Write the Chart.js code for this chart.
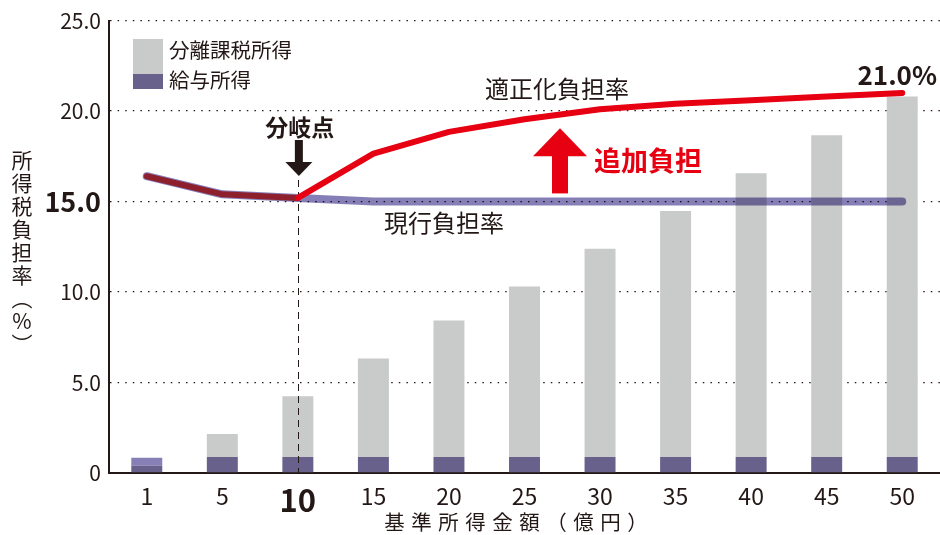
<!DOCTYPE html>
<html lang="ja">
<head>
<meta charset="UTF-8">
<title>所得税負担率</title>
<script src="https://cdn.jsdelivr.net/npm/chart.js@4.4.1/dist/chart.umd.min.js"></script>
<style>
    html, body { margin: 0; padding: 0; background: #ffffff; }
    #wrap { width: 940px; height: 535px; }
</style>
</head>
<body>
<div id="wrap"><canvas id="myChart" width="940" height="535"></canvas></div>
<script>
    // data
    var categories = ['1', '5', '10', '15', '20', '25', '30', '35', '40', '45', '50']
    var salaryIncome = [0.4, 0.88, 0.88, 0.88, 0.88, 0.88, 0.88, 0.88, 0.88, 0.88, 0.88]
    var separateIncome = [0.44, 1.27, 3.36, 5.45, 7.55, 9.42, 11.51, 13.6, 15.69, 17.79, 19.93]
    var currentRate = [16.4, 15.4, 15.2, 15.0, 15.0, 15.0, 15.0, 15.0, 15.0, 15.0, 15.0]
    var adjustedRate = [16.4, 15.4, 15.2, 17.65, 18.85, 19.55, 20.1, 20.4, 20.6, 20.8, 21.0]
    var yTickValues = [0, 5, 10, 15, 20, 25]

    var JP = '"Noto Sans CJK JP", "Noto Sans", sans-serif'
    var INK = '#231815'
    var GRAY = '#c9caca'
    var DARK = '#67618c'
    var LIGHT = '#8780b6'
    var RED = '#e60012'
    var MAROON = '#8e1f2d'

    var extras = {
        id: 'extras',
        beforeDraw(chart) {
            var ctx = chart.ctx
            ctx.save()
            ctx.fillStyle = '#ffffff'
            ctx.fillRect(0, 0, chart.width, chart.height)
            ctx.restore()
        },
        beforeDatasetDraw(chart, args) {
            // purple line darkens the grey bars it crosses
            if (args.meta.type === 'line' && args.index === 3) {
                chart.ctx.save()
                chart.ctx.globalCompositeOperation = 'multiply'
            }
        },
        afterDatasetDraw(chart, args) {
            if (args.meta.type === 'line' && args.index === 3) {
                chart.ctx.restore()
            }
            // dashed line at the branch point goes over the bars, under the lines
            if (args.index === 1) {
                var ctx = chart.ctx
                var x = Math.round(chart.scales.x.getPixelForValue(2)) + 0.5
                ctx.save()
                ctx.strokeStyle = INK
                ctx.lineWidth = 1
                ctx.setLineDash([7, 5])
                ctx.beginPath()
                ctx.moveTo(x, 180)
                ctx.lineTo(x, chart.chartArea.bottom)
                ctx.stroke()
                ctx.restore()
            }
        },
        afterDatasetsDraw(chart) {
            var ctx = chart.ctx
            var xs = chart.scales.x
            var ys = chart.scales.y
            ctx.save()

            // branch point label + arrow
            var bx = xs.getPixelForValue(2) + 1
            ctx.fillStyle = INK
            ctx.font = 'bold 23px ' + JP
            ctx.textAlign = 'center'
            ctx.textBaseline = 'middle'
            ctx.fillText('分岐点', bx + 1, 127)
            ctx.fillRect(bx - 4, 140, 8, 23)
            ctx.beginPath()
            ctx.moveTo(bx - 13.5, 162)
            ctx.lineTo(bx + 13.5, 162)
            ctx.lineTo(bx, 176)
            ctx.closePath()
            ctx.fill()

            // red up arrow
            var rx = xs.getPixelForValue(5.47)
            var top = ys.getPixelForValue(19.05)
            var base = ys.getPixelForValue(15.45)
            ctx.fillStyle = RED
            ctx.fillRect(rx - 8, top + 27, 16, base - top - 27)
            ctx.beginPath()
            ctx.moveTo(rx - 27, top + 28)
            ctx.lineTo(rx + 27, top + 28)
            ctx.lineTo(rx, top)
            ctx.closePath()
            ctx.fill()

            ctx.font = 'bold 27px ' + JP
            ctx.textAlign = 'left'
            ctx.fillText('追加負担', 594, ys.getPixelForValue(17.25))

            // line labels
            ctx.fillStyle = INK
            ctx.font = '24px ' + JP
            ctx.textAlign = 'center'
            ctx.fillText('適正化負担率', 557, ys.getPixelForValue(21.2))
            ctx.fillText('現行負担率', 444, ys.getPixelForValue(13.8))

            ctx.font = 'bold 26px ' + JP
            ctx.textAlign = 'right'
            ctx.fillText('21.0%', 937, ys.getPixelForValue(22.0))

            // legend
            ctx.fillStyle = GRAY
            ctx.fillRect(133, 39, 30, 35)
            ctx.fillStyle = DARK
            ctx.fillRect(133, 74, 30, 15)
            ctx.fillStyle = INK
            ctx.font = '20.5px ' + JP
            ctx.textAlign = 'left'
            ctx.fillText('分離課税所得', 169, 50)
            ctx.fillText('給与所得', 169, 80)

            // vertical y title
            var chars = ['所', '得', '税', '負', '担', '率', '︵', '%', '︶']
            ctx.font = '21px ' + JP
            ctx.textAlign = 'center'
            chars.forEach((c, i) => {
                ctx.fillText(c, 22, 160 + i * 23)
            })

            // x title
            ctx.font = '20.5px ' + JP
            ctx.letterSpacing = '6.5px'
            ctx.textAlign = 'left'
            var t = '基準所得金額（億円）'
            var w = ctx.measureText(t).width - 6.5
            ctx.fillText(t, 516 - w / 2, 522)
            ctx.restore()
        }
    }

    var ctx = document.getElementById('myChart').getContext('2d')
    var myChart = new Chart(ctx, {
        type: 'bar',
        data: {
            labels: categories,
            datasets: [
                {
                    label: '適正化負担率',
                    type: 'line',
                    data: adjustedRate,
                    borderColor: RED,
                    segment: {
                        borderColor: (c) => c.p1DataIndex <= 2 ? MAROON : RED
                    },
                    borderWidth: 6,
                    borderCapStyle: 'round',
                    borderJoinStyle: 'round',
                    pointRadius: 0,
                    tension: 0,
                    stack: 'adjusted',
                    order: 1
                },
                {
                    label: '給与所得',
                    data: salaryIncome,
                    backgroundColor: DARK,
                    stack: 'income',
                    order: 3
                },
                {
                    label: '分離課税所得',
                    data: separateIncome,
                    backgroundColor: separateIncome.map((v, i) => i === 0 ? LIGHT : GRAY),
                    stack: 'income',
                    order: 4
                },
                {
                    label: '現行負担率',
                    type: 'line',
                    data: currentRate,
                    borderColor: '#867fb7',
                    borderWidth: 8,
                    borderCapStyle: 'round',
                    borderJoinStyle: 'round',
                    pointRadius: 0,
                    tension: 0,
                    stack: 'current',
                    order: 2
                }
            ]
        },
        options: {
            responsive: false,
            animation: false,
            events: [],
            datasets: {
                bar: {
                    barPercentage: 0.41,
                    categoryPercentage: 1
                }
            },
            layout: {
                padding: { top: 19, right: -2, left: 0, bottom: 0 }
            },
            scales: {
                x: {
                    stacked: true,
                    offset: true,
                    grid: { display: false, drawTicks: false },
                    border: { display: true, color: INK, width: 2 },
                    ticks: {
                        color: INK,
                        padding: 9,
                        maxRotation: 0,
                        font: (c) => c.index === 2
                            ? { family: JP, size: 31, weight: 'bold' }
                            : { family: JP, size: 23 }
                    },
                    afterFit: (s) => { s.height = 62 }
                },
                y: {
                    stacked: true,
                    min: 0,
                    max: 25,
                    afterBuildTicks: (s) => { s.ticks = yTickValues.map(v => ({ value: v })) },
                    grid: {
                        color: INK,
                        lineWidth: 1.3,
                        drawTicks: false
                    },
                    border: { display: true, color: INK, width: 2, dash: [1.5, 6.1] },
                    ticks: {
                        color: INK,
                        padding: 8,
                        callback: (v) => v === 0 ? '0' : v.toFixed(1),
                        font: (c) => c.tick && c.tick.value === 15
                            ? { family: JP, size: 27, weight: 'bold' }
                            : { family: JP, size: 21 }
                    },
                    afterFit: (s) => { s.width = 109 }
                }
            },
            plugins: {
                legend: { display: false },
                tooltip: { enabled: false }
            }
        },
        plugins: [extras]
    })
</script>
</body>
</html>
